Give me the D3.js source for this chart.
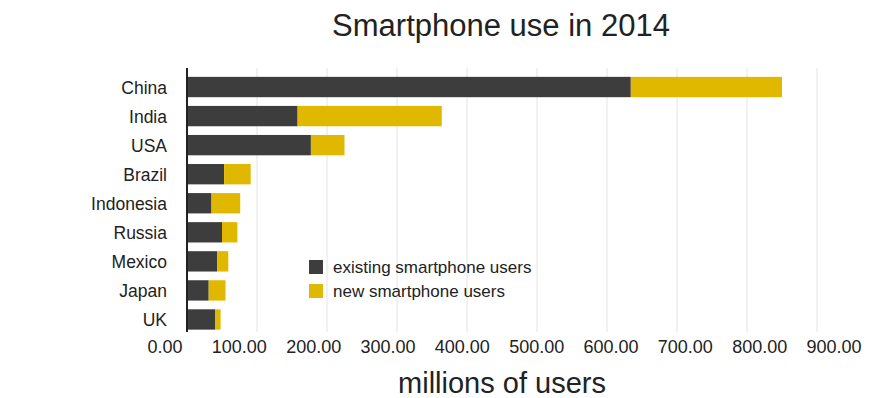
<!DOCTYPE html>
<html>
<head>
    <style>
        body { margin: 0; background: #fff; }
        svg text { font-family: "Liberation Sans", Arial, sans-serif; fill: #222; }
        .title { font-size: 31px; text-anchor: middle; }
        .ylab { font-size: 17.5px; text-anchor: end; }
        .xlab { font-size: 18px; text-anchor: middle; }
        .axis-title { font-size: 29px; text-anchor: middle; }
        .legend text { font-size: 17px; }
        .grid { stroke: #e4e4e4; stroke-width: 1; }
    </style>
    <script src="https://d3js.org/d3.v7.min.js"></script>
</head>
<body>
    <svg width="869" height="398"></svg>
    <script>
        var countries = ["China", "India", "USA", "Brazil", "Indonesia", "Russia", "Mexico", "Japan", "UK"];
        var existing  = [634, 158, 177, 53, 35, 50, 43, 31, 40];
        var newUsers  = [216, 206, 48, 38, 41, 22, 16, 24, 8];
        var xTicks    = [0, 100, 200, 300, 400, 500, 600, 700, 800, 900];
        var seriesNames = ["existing smartphone users", "new smartphone users"];
        var colors = ["#3d3d3d", "#e0b800"];

        var svg = d3.select("svg");

        var x = d3.scaleLinear().domain([0, 900]).range([187, 817]);
        // the labels in the picture are spread a bit wider than the grid
        var xLabel = d3.scaleLinear().domain([0, 900]).range([165, 834]);
        var y = d3.scaleBand().domain(countries).range([72.5, 334])
                  .paddingInner(0.3).paddingOuter(0.15);

        // grid lines
        svg.append("g").selectAll("line")
           .data(xTicks.slice(1))
           .enter().append("line")
           .attr("class", "grid")
           .attr("x1", function(d) { return x(d); })
           .attr("x2", function(d) { return x(d); })
           .attr("y1", 68)
           .attr("y2", 332);

        // stacked bars
        var data = countries.map(function(c, i) {
            return { country: c, existing: existing[i], fresh: newUsers[i] };
        });
        var stack = d3.stack().keys(["existing", "fresh"])(data);

        svg.append("g").selectAll("g")
           .data(stack)
           .enter().append("g")
           .attr("fill", function(d, i) { return colors[i]; })
           .selectAll("rect")
           .data(function(d) { return d; })
           .enter().append("rect")
           .attr("x", function(d) { return x(d[0]); })
           .attr("width", function(d) { return x(d[1]) - x(d[0]); })
           .attr("y", function(d) { return y(d.data.country); })
           .attr("height", y.bandwidth());

        // y axis line
        svg.append("line")
           .attr("x1", x(0)).attr("x2", x(0))
           .attr("y1", 68).attr("y2", 332)
           .attr("stroke", "#222").attr("stroke-width", 2);

        // country labels
        svg.append("g").selectAll("text")
           .data(countries)
           .enter().append("text")
           .attr("class", "ylab")
           .attr("x", 167)
           .attr("y", function(d) { return y(d) + y.bandwidth() / 2 + 6.5; })
           .text(function(d) { return d; });

        // x tick labels
        svg.append("g").selectAll("text")
           .data(xTicks)
           .enter().append("text")
           .attr("class", "xlab")
           .attr("x", function(d) { return xLabel(d); })
           .attr("y", 353)
           .text(function(d) { return d3.format(".2f")(d); });

        svg.append("text")
           .attr("class", "title")
           .attr("x", 501).attr("y", 36)
           .text("Smartphone use in 2014");

        svg.append("text")
           .attr("class", "axis-title")
           .attr("x", 502).attr("y", 393)
           .text("millions of users");

        // legend
        var legend = svg.append("g").attr("class", "legend")
                        .selectAll("g")
                        .data(seriesNames)
                        .enter().append("g")
                        .attr("transform", function(d, i) { return "translate(309," + (260 + i * 24) + ")"; });
        legend.append("rect")
              .attr("width", 14).attr("height", 14)
              .attr("fill", function(d, i) { return colors[i]; });
        legend.append("text")
              .attr("x", 24).attr("y", 13)
              .text(function(d) { return d; });
    </script>
</body>
</html>
